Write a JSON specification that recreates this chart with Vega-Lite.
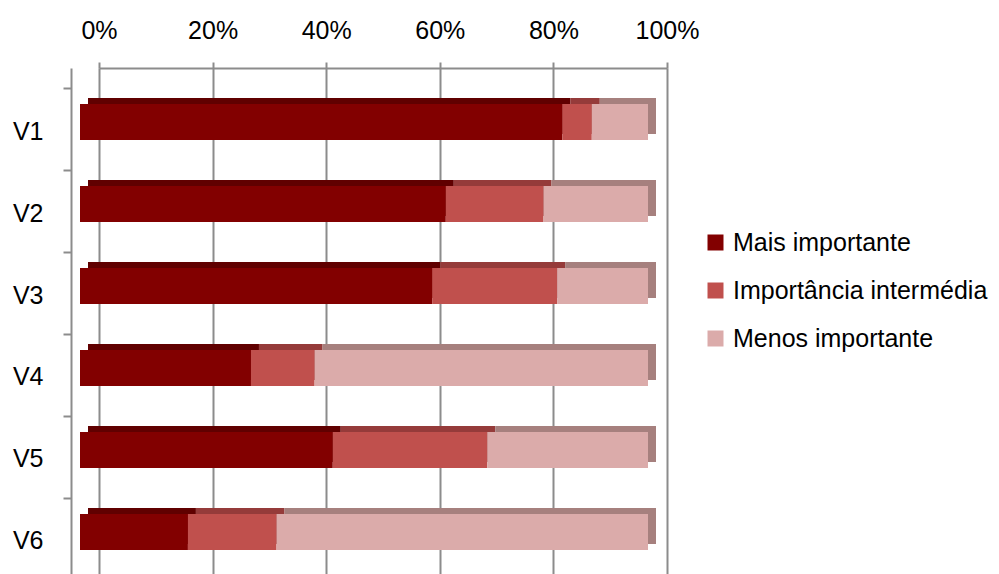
{
  "$schema": "https://vega.github.io/schema/vega-lite/v6.json",
  "autosize": "none",
  "width": 568,
  "height": 506,
  "padding": {"left": 99, "top": 68, "right": 332, "bottom": 0},
  "background": "white",
  "config": {
    "font": "Liberation Sans",
    "view": {"stroke": null}
  },
  "data": {
    "values": [
      {"cat": "V1", "grp": "Mais importante", "ord": 1, "val": 84.9},
      {"cat": "V1", "grp": "Importância intermédia", "ord": 2, "val": 5.2},
      {"cat": "V1", "grp": "Menos importante", "ord": 3, "val": 9.9},
      {"cat": "V2", "grp": "Mais importante", "ord": 1, "val": 64.4},
      {"cat": "V2", "grp": "Importância intermédia", "ord": 2, "val": 17.2},
      {"cat": "V2", "grp": "Menos importante", "ord": 3, "val": 18.4},
      {"cat": "V3", "grp": "Mais importante", "ord": 1, "val": 62.0},
      {"cat": "V3", "grp": "Importância intermédia", "ord": 2, "val": 22.0},
      {"cat": "V3", "grp": "Menos importante", "ord": 3, "val": 16.0},
      {"cat": "V4", "grp": "Mais importante", "ord": 1, "val": 30.1},
      {"cat": "V4", "grp": "Importância intermédia", "ord": 2, "val": 11.2},
      {"cat": "V4", "grp": "Menos importante", "ord": 3, "val": 58.7},
      {"cat": "V5", "grp": "Mais importante", "ord": 1, "val": 44.5},
      {"cat": "V5", "grp": "Importância intermédia", "ord": 2, "val": 27.2},
      {"cat": "V5", "grp": "Menos importante", "ord": 3, "val": 28.3},
      {"cat": "V6", "grp": "Mais importante", "ord": 1, "val": 19.0},
      {"cat": "V6", "grp": "Importância intermédia", "ord": 2, "val": 15.6},
      {"cat": "V6", "grp": "Menos importante", "ord": 3, "val": 65.4}
    ]
  },
  "encoding": {
    "y": {
      "field": "cat",
      "type": "nominal",
      "sort": ["V1", "V2", "V3", "V4", "V5", "V6"],
      "scale": {"paddingInner": 0.56, "paddingOuter": 0.366, "align": 0.6},
      "axis": {
        "title": null,
        "orient": "left",
        "offset": 28,
        "domainColor": "#8c8c8c",
        "domainWidth": 2,
        "tickColor": "#8c8c8c",
        "tickWidth": 2,
        "tickSize": 8,
        "bandPosition": 0,
        "tickOffset": -16,
        "labelOffset": 25,
        "labelPadding": 20,
        "labelFontSize": 25,
        "labelColor": "black",
        "grid": false
      }
    },
    "x": {
      "field": "val",
      "type": "quantitative",
      "stack": "zero",
      "scale": {"domain": [0, 100], "nice": false},
      "axis": {
        "title": null,
        "orient": "top",
        "values": [0, 20, 40, 60, 80, 100],
        "labelExpr": "datum.value + '%'",
        "labelFontSize": 25,
        "labelColor": "black",
        "labelPadding": 19,
        "labelFlush": false,
        "domainColor": "#8c8c8c",
        "domainWidth": 2,
        "tickColor": "#8c8c8c",
        "tickWidth": 2,
        "tickSize": 6,
        "grid": true,
        "gridColor": "#8c8c8c",
        "gridWidth": 2,
        "gridOpacity": 1
      }
    },
    "order": {"field": "ord", "type": "quantitative"}
  },
  "layer": [
    {
      "mark": {"type": "bar", "xOffset": -11, "yOffset": -6},
      "encoding": {
        "color": {
          "field": "grp",
          "type": "nominal",
          "sort": ["Mais importante", "Importância intermédia", "Menos importante"],
          "scale": {"domain": ["Mais importante", "Importância intermédia", "Menos importante"], "range": ["#600000", "#953B3A", "#A6807E"]},
          "legend": null
        }
      }
    },
    {
      "mark": {"type": "bar", "xOffset": -19},
      "encoding": {
        "color": {
          "field": "grp",
          "type": "nominal",
          "sort": ["Mais importante", "Importância intermédia", "Menos importante"],
          "scale": {"domain": ["Mais importante", "Importância intermédia", "Menos importante"], "range": ["#820000", "#C0504D", "#DBABAA"]},
          "legend": {
            "title": null,
            "orient": "none",
            "legendX": 604,
            "legendY": 162,
            "symbolType": "square",
            "symbolSize": 256,
            "symbolStrokeWidth": 0,
            "symbolOpacity": 1,
            "labelFontSize": 25,
            "labelColor": "black",
            "labelOffset": 5,
            "rowPadding": 22,
            "labelLimit": 400
          }
        }
      }
    }
  ],
  "resolve": {"scale": {"color": "independent"}}
}
